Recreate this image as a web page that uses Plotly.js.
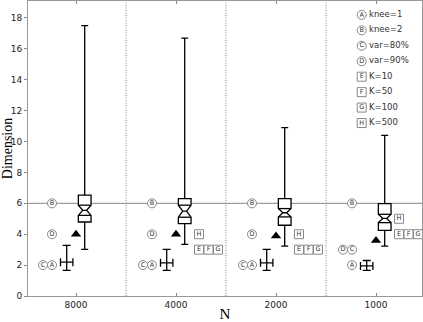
<!DOCTYPE html>
<html>
<head>
<meta charset="utf-8">
<script src="https://cdn.plot.ly/plotly-3.0.1.min.js"></script>
<style>
  html, body { margin: 0; padding: 0; background: #fff; }
  #chart { width: 423px; height: 322px; }
</style>
</head>
<body>
<div id="chart"></div>
<script>
// sample sizes (x categories)
let sizes = ['8000', '4000', '2000', '1000'];

// notched box summaries
let q1 = [4.79, 4.68, 4.58, 4.25];
let med = [5.55, 5.49, 5.39, 5.02];
let q3 = [6.53, 6.31, 6.31, 5.98];
let notch = [0.33, 0.39, 0.27, 0.27];
let lowWhisker = [3.02, 3.34, 3.23, 3.23];
let highWhisker = [17.5, 16.7, 10.9, 10.4];

// black triangles
let tri = [4.0, 4.0, 3.88, 3.6];

// the cross (centre + vertical spread)
let crossMid = [2.19, 2.15, 2.15, 1.95];
let crossTop = [3.28, 3.02, 3.02, 2.3];
let crossBot = [1.66, 1.66, 1.66, 1.66];

// circled estimators
let circleNames = ['A', 'B', 'C', 'D'];
let circleLabels = ['knee=1', 'knee=2', 'var=80%', 'var=90%'];
let circleVals = [
  [2, 2, 2, 2],
  [6, 6, 6, 6],
  [2, 2, 2, 3],
  [4, 4, 4, 3]
];

// squared estimators
let squareNames = ['E', 'F', 'G', 'H'];
let squareLabels = ['K=10', 'K=50', 'K=100', 'K=500'];
let squareVals = [
  [null, 3, 3, 4],
  [null, 3, 3, 4],
  [null, 3, 3, 4],
  [null, 4, 4, 5]
];

let idx = sizes.map((s, i) => i);
let letterFont = { family: 'DejaVu Sans', size: 6.5, color: '#333' };
let boxShift = 0.087, boxW = 0.127;

// ties at the same height get pushed sideways
function spread(vals, base, step) {
  return vals.map((row, k) => row.map((v, i) => {
    let n = 0;
    for (let j = 0; j < k; j++) if (vals[j][i] === v) n++;
    return i + base + step * n;
  }));
}
let circleX = spread(circleVals, -0.24, -0.09);
let squareX = spread(squareVals, 0.23, 0.095);

let traces = [];

traces.push({
  type: 'box',
  x: idx.map(i => i + boxShift),
  q1: q1,
  median: med,
  q3: q3,
  lowerfence: lowWhisker,
  upperfence: highWhisker,
  notchspan: notch,
  notched: true,
  notchwidth: 0.35,
  width: boxW,
  whiskerwidth: 0.55,
  boxpoints: false,
  fillcolor: '#fff',
  line: { color: '#000', width: 1.3 },
  hoverinfo: 'skip'
});

// flat edges where the notch starts and ends
let nx = [], ny = [];
idx.forEach(i => {
  [med[i] + notch[i], med[i] - notch[i]].forEach(v => {
    nx.push(i + boxShift - boxW / 2, i + boxShift + boxW / 2, null);
    ny.push(v, v, null);
  });
});
traces.push({
  type: 'scatter', mode: 'lines', x: nx, y: ny,
  line: { color: '#000', width: 1.3 }, hoverinfo: 'skip'
});

traces.push({
  type: 'scatter',
  mode: 'markers',
  x: idx,
  y: tri,
  marker: { symbol: 'triangle-up', size: 9, color: '#000' },
  hoverinfo: 'skip'
});

traces.push({
  type: 'scatter',
  mode: 'markers',
  x: idx.map(i => i - 0.093),
  y: crossMid,
  marker: { size: 1, color: '#000' },
  error_y: {
    type: 'data', symmetric: false,
    array: crossTop.map((v, i) => v - crossMid[i]),
    arrayminus: crossMid.map((v, i) => v - crossBot[i]),
    color: '#000', thickness: 1.3, width: 4
  },
  error_x: { type: 'constant', value: 0.062, color: '#000', thickness: 1.3, width: 4 },
  hoverinfo: 'skip'
});

circleNames.forEach((nm, k) => {
  traces.push({
    type: 'scatter',
    mode: 'markers+text',
    x: circleX[k],
    y: circleVals[k],
    text: circleVals[k].map(() => nm),
    textposition: 'middle center',
    textfont: letterFont,
    marker: { symbol: 'circle', size: 9, color: '#fff', line: { color: '#888', width: 1 } },
    hoverinfo: 'skip'
  });
});

squareNames.forEach((nm, k) => {
  traces.push({
    type: 'scatter',
    mode: 'markers+text',
    x: squareX[k],
    y: squareVals[k],
    text: squareVals[k].map(() => nm),
    textposition: 'middle center',
    textfont: letterFont,
    marker: { symbol: 'square', size: 9, color: '#fff', line: { color: '#888', width: 1 } },
    hoverinfo: 'skip'
  });
});

// legend block, top right
let legNames = circleNames.concat(squareNames);
let legLabels = circleLabels.concat(squareLabels);
let legY = legNames.map((n, k) => 18.2 - k * 1.0);
traces.push({
  type: 'scatter',
  mode: 'markers+text',
  x: legNames.map(() => 2.857),
  y: legY,
  text: legNames,
  textposition: 'middle center',
  textfont: letterFont,
  marker: {
    symbol: legNames.map((n, k) => k < 4 ? 'circle' : 'square'),
    size: 9, color: '#fff', line: { color: '#888', width: 1 }
  },
  hoverinfo: 'skip'
});
traces.push({
  type: 'scatter',
  mode: 'text',
  x: legNames.map(() => 2.93),
  y: legY,
  text: legLabels,
  textposition: 'middle right',
  textfont: { family: 'DejaVu Sans', size: 8.5, color: '#333' },
  hoverinfo: 'skip'
});

let layout = {
  width: 423,
  height: 322,
  margin: { l: 28, r: 1, t: 1, b: 26 },
  showlegend: false,
  paper_bgcolor: '#fff',
  plot_bgcolor: '#fff',
  font: { family: 'DejaVu Sans', size: 9, color: '#222' },
  xaxis: {
    range: [-0.48, 3.46],
    tickvals: idx,
    ticktext: sizes,
    ticks: 'inside',
    ticklen: 3,
    tickcolor: '#888',
    showgrid: false,
    zeroline: false,
    showline: true,
    linecolor: '#999',
    mirror: 'ticks',
    title: { text: 'N', font: { family: 'Liberation Serif', size: 15, color: '#000' }, standoff: 6 }
  },
  yaxis: {
    range: [0, 19.1],
    tickvals: [0, 2, 4, 6, 8, 10, 12, 14, 16, 18],
    ticks: 'outside',
    ticklen: 3,
    tickcolor: '#888',
    showgrid: false,
    zeroline: false,
    showline: true,
    linecolor: '#999',
    mirror: true,
    title: { text: 'Dimension', font: { family: 'Liberation Serif', size: 14, color: '#000' }, standoff: 2 }
  },
  shapes: [
    { type: 'line', xref: 'paper', x0: 0, x1: 1, yref: 'y', y0: 6, y1: 6, layer: 'below',
      line: { color: '#888', width: 1 } }
  ].concat([0.5, 1.5, 2.5].map(v => ({
    type: 'line', xref: 'x', x0: v, x1: v, yref: 'paper', y0: 0, y1: 1, layer: 'below',
    line: { color: '#888', width: 1, dash: '1px,1.5px' }
  })))
};

Plotly.newPlot('chart', traces, layout, { displayModeBar: false, staticPlot: true });
</script>
</body>
</html>
